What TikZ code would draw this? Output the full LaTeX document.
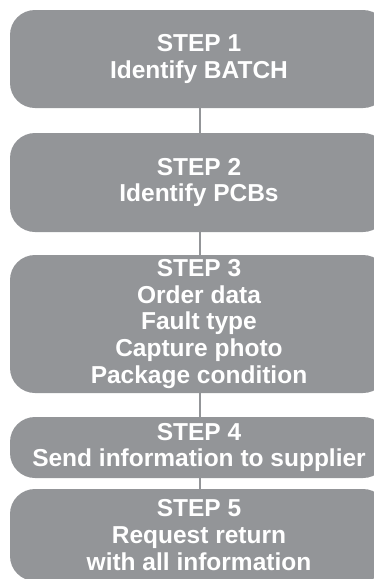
\documentclass[tikz,border=0pt]{standalone}
\usepackage{fontspec}
\setmainfont{Liberation Sans}
\definecolor{boxgray}{RGB}{147,149,152}
\begin{document}
\begin{tikzpicture}[x=1pt,y=1pt,
  stepbox/.style={fill=boxgray, draw=none, rounded corners=25pt, minimum width=378pt,
    text=white, align=center, inner sep=0pt,
    font=\bfseries\fontsize{24.5}{26.7}\selectfont},
  link/.style={draw=boxgray, line width=1.5pt}]
\useasboundingbox (0,0) rectangle (374,-579);
\clip (0,0) rectangle (374,-579);
\node[stepbox, minimum height=98pt] (s1) at (199,-59) {STEP 1\\Identify BATCH};
\node[stepbox, minimum height=99pt] (s2) at (199,-182.5) {STEP 2\\Identify PCBs};
\node[stepbox, minimum height=138pt] (s3) at (199,-324) {STEP 3\\Order data\\Fault type\\Capture photo\\Package condition};
\node[stepbox, minimum height=61pt] (s4) at (199,-447.5) {STEP 4\\Send information to supplier};
\node[stepbox, minimum height=92pt] (s5) at (199,-535) {STEP 5\\Request return\\with all information};
\draw[link] (s1.south -| 200,0) -- (s2.north -| 200,0);
\draw[link] (s2.south -| 200,0) -- (s3.north -| 200,0);
\draw[link] (s3.south -| 200,0) -- (s4.north -| 200,0);
\draw[link] (s4.south -| 200,0) -- (s5.north -| 200,0);
\end{tikzpicture}
\end{document}
